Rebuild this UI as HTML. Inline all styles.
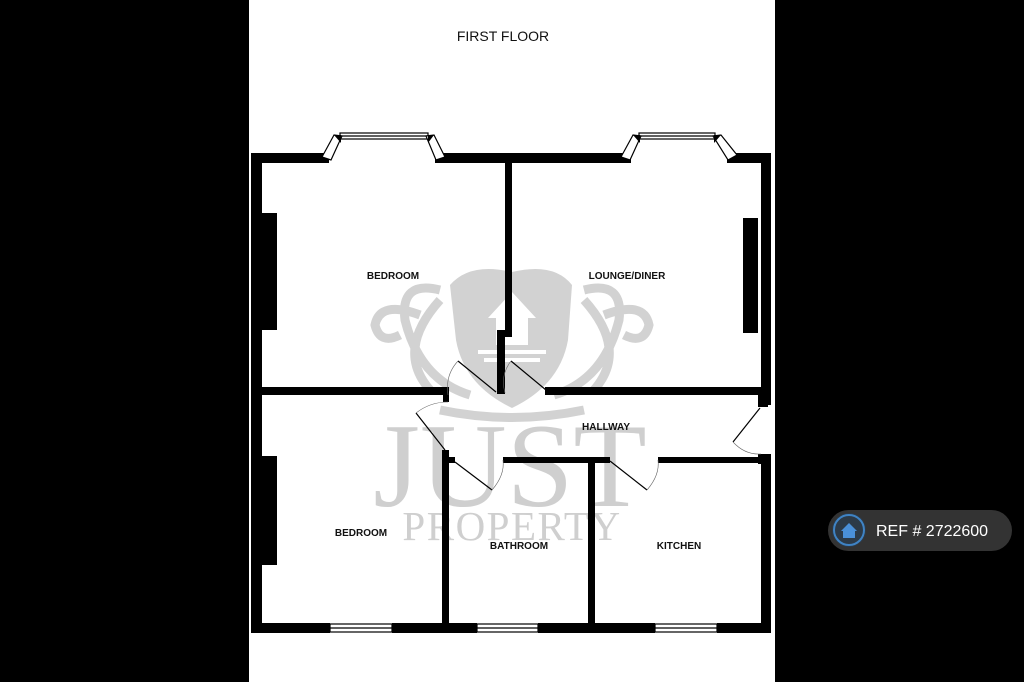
<!DOCTYPE html>
<html><head><style>
html,body{margin:0;padding:0;background:#000;width:1024px;height:682px;overflow:hidden}
svg{display:block}
.lbl{font-family:"Liberation Sans",sans-serif;font-weight:bold;font-size:10px;fill:#111;text-anchor:middle}
</style></head><body>
<svg width="1024" height="682" viewBox="0 0 1024 682" xmlns="http://www.w3.org/2000/svg">
<rect x="0" y="0" width="1024" height="682" fill="#000"/>
<rect x="249" y="0" width="526" height="682" fill="#fff"/>
<text x="503" y="41" font-family="Liberation Sans,sans-serif" font-size="14" text-anchor="middle" fill="#111">FIRST FLOOR</text>

<!-- watermark -->
<g fill="#d2d2d2" stroke="none">
  <path d="M450,285 Q470,262 512,272 Q554,262 572,285 L568,340 Q560,385 512,408 Q464,385 456,340 Z"/>
</g>
<g fill="none" stroke="#d2d2d2" stroke-width="9">
  <path d="M440,290 Q400,280 405,320 Q420,380 470,395 M440,300 Q395,350 430,390 M420,315 Q380,300 375,325 Q380,345 400,335"/>
  <path d="M584,290 Q624,280 619,320 Q604,380 554,395 M584,300 Q629,350 594,390 M604,315 Q644,300 649,325 Q644,345 624,335"/>
  <path d="M440,410 Q512,425 584,410"/>
</g>
<path d="M512,292 L488,318 L496,318 L496,345 L528,345 L528,318 L536,318 Z" fill="#fff"/>
<rect x="478" y="350" width="68" height="4" fill="#fff"/><rect x="484" y="358" width="56" height="4" fill="#fff"/>
<text x="510" y="506" font-family="Liberation Serif,serif" font-size="120" text-anchor="middle" fill="#cfcfcf">JUST</text>
<text x="512" y="540" font-family="Liberation Serif,serif" font-size="41" letter-spacing="1.5" text-anchor="middle" fill="#cfcfcf">PROPERTY</text>

<!-- walls -->
<g fill="#000">
  <!-- top wall -->
  <rect x="251" y="153" width="78" height="10"/>
  <rect x="435" y="153" width="196" height="10"/>
  <rect x="727" y="153" width="44" height="10"/>
  <!-- left wall -->
  <rect x="251" y="153" width="11" height="480"/>
  <!-- right wall -->
  <rect x="761" y="153" width="10" height="252"/>
  <rect x="758" y="387" width="10" height="20"/>
  <rect x="761" y="454" width="10" height="179"/>
  <rect x="758" y="454" width="10" height="10"/>
  <!-- bottom wall -->
  <rect x="251" y="623" width="79" height="10"/>
  <rect x="392" y="623" width="85" height="10"/>
  <rect x="538" y="623" width="117" height="10"/>
  <rect x="717" y="623" width="54" height="10"/>
  <!-- interior vertical between bedroom/lounge -->
  <rect x="505" y="163" width="7" height="174"/>
  <rect x="497" y="330" width="15" height="7"/>
  <rect x="497" y="330" width="8" height="64"/>
  <!-- horizontal wall middle -->
  <rect x="262" y="387" width="186" height="8"/>
  <rect x="443" y="387" width="6" height="15"/>
  <rect x="545" y="387" width="216" height="8"/>
  <!-- hallway lower wall -->
  <rect x="442" y="450" width="7" height="173"/>
  <rect x="442" y="457" width="13" height="6"/>
  <rect x="503" y="457" width="107" height="6"/>
  <rect x="658" y="457" width="113" height="6"/>
  <rect x="588" y="457" width="7" height="166"/>
  <!-- radiators -->
  <rect x="262" y="213" width="15" height="117"/>
  <rect x="743" y="218" width="15" height="115"/>
  <rect x="262" y="456" width="15" height="109"/>
</g>

<!-- bay windows -->
<g fill="#fff" stroke="#000" stroke-width="1.2">
  <rect x="340" y="133" width="88" height="6"/>
  <line x1="340" y1="136" x2="428" y2="136"/>
  <polygon points="334,135 342,136 331,160 322,157"/>
  <polygon points="426,136 434,135 445,157 436,160"/>
  <rect x="639" y="133" width="76" height="6"/>
  <line x1="639" y1="136" x2="715" y2="136"/>
  <polygon points="633,135 641,136 630,160 621,157"/>
  <polygon points="713,136 721,135 737,155 728,160"/>
  <!-- bottom windows -->
  <rect x="330" y="624" width="62" height="8"/>
  <line x1="330" y1="628" x2="392" y2="628"/>
  <rect x="477" y="624" width="61" height="8"/>
  <line x1="477" y1="628" x2="538" y2="628"/>
  <rect x="655" y="624" width="62" height="8"/>
  <line x1="655" y1="628" x2="717" y2="628"/>
</g>
<g fill="#000"><polygon points="334,135 341,135 341,143"/><polygon points="428,135 434,135 428,143"/><polygon points="633,135 640,135 640,143"/><polygon points="714,135 721,135 714,143"/></g>

<!-- doors -->
<g stroke="#000" stroke-width="1.2" fill="none">
  <line x1="458" y1="361" x2="496" y2="392"/>
  <path d="M458,361 Q445,375 448,395" stroke-width="0.6" stroke="#666"/>
  <line x1="511" y1="361" x2="546" y2="390"/>
  <path d="M511,361 Q500,375 505,393" stroke-width="0.6" stroke="#666"/>
  <line x1="416" y1="413" x2="445" y2="450"/>
  <path d="M416,413 Q430,402 448,402" stroke-width="0.6" stroke="#666"/>
  <line x1="455" y1="462" x2="492" y2="490"/>
  <path d="M492,490 Q505,475 503,460" stroke-width="0.6" stroke="#666"/>
  <line x1="610" y1="461" x2="647" y2="490"/>
  <path d="M647,490 Q660,475 658,460" stroke-width="0.6" stroke="#666"/>
  <line x1="760" y1="408" x2="733" y2="442"/>
  <path d="M733,442 Q745,455 761,454" stroke-width="0.6" stroke="#666"/>
</g>

<!-- labels -->
<text class="lbl" x="393" y="279">BEDROOM</text>
<text class="lbl" x="627" y="279">LOUNGE/DINER</text>
<text class="lbl" x="606" y="430">HALLWAY</text>
<text class="lbl" x="361" y="536">BEDROOM</text>
<text class="lbl" x="519" y="549">BATHROOM</text>
<text class="lbl" x="679" y="549">KITCHEN</text>

<!-- ref badge -->
<rect x="828" y="510" width="184" height="41" rx="20.5" fill="#333"/>
<circle cx="849" cy="530" r="17" fill="#2c3a48"/>
<circle cx="849" cy="530" r="15" fill="none" stroke="#3f83c4" stroke-width="2"/>
<path d="M841,531 L849,523 L857,531 L855,531 L855,538 L843,538 L843,531 Z" fill="#4a90d9"/>
<text x="876" y="536" font-family="Liberation Sans,sans-serif" font-size="16" fill="#fff">REF # 2722600</text>
</svg>
</body></html>
